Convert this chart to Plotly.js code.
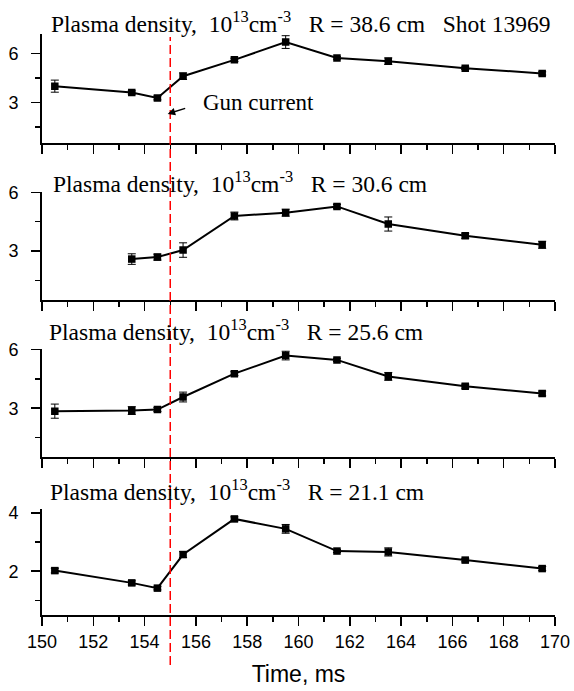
<!DOCTYPE html>
<html>
<head>
<meta charset="utf-8">
<script src="https://cdn.plot.ly/plotly-3.0.1.min.js"></script>
<style>html,body{margin:0;padding:0;background:#fff;}#chart{width:574px;height:691px;}</style>
</head>
<body>
<div id="chart"></div>
<script>
// Time points, ms
const time = [150.5, 153.5, 154.5, 155.5, 157.5, 159.5, 161.5, 163.5, 166.5, 169.5];

// Plasma density (10^13 cm^-3) for each radius, with error bars
const densR386 = [4.0, 3.61, 3.28, 4.61, 5.61, 6.7, 5.73, 5.53, 5.1, 4.78];
const errR386  = [0.37, 0.1, 0.12, 0.2, 0.1, 0.39, 0.08, 0.2, 0.08, 0.1];

const densR306 = [null, 2.59, 2.69, 3.05, 4.79, 4.96, 5.28, 4.38, 3.78, 3.32];
const errR306  = [null, 0.27, 0.15, 0.37, 0.2, 0.18, 0.1, 0.36, 0.13, 0.18];

const densR256 = [2.85, 2.88, 2.93, 3.57, 4.76, 5.68, 5.46, 4.62, 4.12, 3.75];
const errR256  = [0.36, 0.2, 0.1, 0.25, 0.1, 0.22, 0.08, 0.2, 0.1, 0.12];

const densR211 = [2.02, 1.6, 1.42, 2.57, 3.79, 3.45, 2.69, 2.66, 2.38, 2.09];
const errR211  = [0.08, 0.07, 0.06, 0.1, 0.07, 0.15, 0.05, 0.14, 0.06, 0.07];

const panelTitles = [
  'Plasma density,\u00a0\u00a010<sup>13</sup>cm<sup>-3</sup>\u00a0\u00a0\u00a0R = 38.6 cm\u00a0\u00a0\u00a0Shot 13969',
  'Plasma density,\u00a0\u00a010<sup>13</sup>cm<sup>-3</sup>\u00a0\u00a0\u00a0R = 30.6 cm',
  'Plasma density,\u00a0\u00a010<sup>13</sup>cm<sup>-3</sup>\u00a0\u00a0\u00a0R = 25.6 cm',
  'Plasma density,\u00a0\u00a010<sup>13</sup>cm<sup>-3</sup>\u00a0\u00a0\u00a0R = 21.1 cm'
];
const gunTime = 155;
const xLabel = 'Time, ms';
const gunLabel = 'Gun current';

const series = [
  {y: densR386, e: errR386},
  {y: densR306, e: errR306},
  {y: densR256, e: errR256},
  {y: densR211, e: errR211}
];

const traces = series.map((s, i) => ({
  type: 'scatter', mode: 'lines+markers',
  x: time, y: s.y,
  xaxis: 'x' + (i === 0 ? '' : i + 1),
  yaxis: 'y' + (i === 0 ? '' : i + 1),
  line: {color: '#000', width: 2},
  marker: {symbol: 'square', size: 7.5, color: '#000'},
  error_y: {type: 'data', array: s.e, visible: true, color: '#000', thickness: 1, width: 4},
  showlegend: false, hoverinfo: 'skip'
}));

const sans = 'Liberation Sans, Arial, sans-serif';
const serif = 'Liberation Serif, Times New Roman, serif';
const tickFont = {family: sans, size: 18, color: '#000'};

function xAx(anchor, labels) {
  return {
    anchor: anchor, domain: [0, 1], range: [150, 170],
    showline: true, linecolor: '#000', linewidth: 2,
    ticks: 'outside', ticklen: 9, tickwidth: 1.5, tickcolor: '#000',
    tick0: 150, dtick: 2, showgrid: false, zeroline: false,
    minor: {dtick: 1, tick0: 150, ticks: 'outside', ticklen: 5, tickwidth: 1.5, tickcolor: '#000', showgrid: false},
    showticklabels: labels, tickfont: tickFont
  };
}
function yAx(anchor, domain, range, dtick, mdtick) {
  return {
    anchor: anchor, domain: domain, range: range,
    showline: true, linecolor: '#000', linewidth: 2,
    ticks: 'outside', ticklen: 9, tickwidth: 1.5, tickcolor: '#000',
    tick0: 0, dtick: dtick, showgrid: false, zeroline: false,
    minor: {dtick: mdtick, tick0: 0, ticks: 'outside', ticklen: 5, tickwidth: 1.5, tickcolor: '#000', showgrid: false},
    tickfont: tickFont, ticksuffix: '\u2002'
  };
}

const H = 691;
const d = (bot, top) => [1 - bot / H, 1 - top / H];

const xax4 = xAx('y4', true);
xax4.title = {text: xLabel, font: {family: sans, size: 23, color: '#000'}, standoff: 15};

const titleY = [21.7, 181.7, 330, 490];
const titleX = [0.0136, 0.017, 0.010, 0.012];

const annotations = panelTitles.map((t, i) => ({
  xref: 'paper', yref: 'paper', x: titleX[i], y: 1 - titleY[i] / H,
  xanchor: 'left', yanchor: 'middle', showarrow: false, text: t,
  font: {family: serif, size: 23.5, color: '#000'}
}));
annotations.push({
  xref: 'x', yref: 'y', x: 156.2, y: 3.0, xanchor: 'left', yanchor: 'middle',
  showarrow: false, text: gunLabel, font: {family: serif, size: 23, color: '#000'}
});
annotations.push({
  xref: 'x', yref: 'y', x: 154.9, y: 2.3, text: '', showarrow: true,
  ax: 19, ay: -6, arrowhead: 2, arrowsize: 1, arrowwidth: 1.5, arrowcolor: '#000', standoff: 0
});

const layout = {
  width: 574, height: 691,
  margin: {l: 42, r: 19, t: 0, b: 0},
  paper_bgcolor: '#fff', plot_bgcolor: 'rgba(0,0,0,0)',
  showlegend: false,
  font: {family: sans, color: '#000'},
  xaxis: xAx('y', false), xaxis2: xAx('y2', false), xaxis3: xAx('y3', false), xaxis4: xax4,
  yaxis: yAx('x', d(143.3, 33.9), [0.5, 7.2], 3, 1.5),
  yaxis2: yAx('x2', d(300, 192.3), [0.5, 6], 3, 1.5),
  yaxis3: yAx('x3', d(457.3, 349.3), [0.5, 6], 3, 1.5),
  yaxis4: yAx('x4', d(615, 509), [0.5, 4.13], 2, 1),
  shapes: [{
    type: 'line', xref: 'x4', yref: 'paper', x0: gunTime, x1: gunTime,
    y0: 1 - 665 / H, y1: 1 - 37 / H,
    line: {color: '#ff0000', width: 1.5, dash: '9px,4px'}
  }],
  annotations: annotations
};

Plotly.newPlot('chart', traces, layout, {staticPlot: true, displayModeBar: false});
</script>
</body>
</html>
